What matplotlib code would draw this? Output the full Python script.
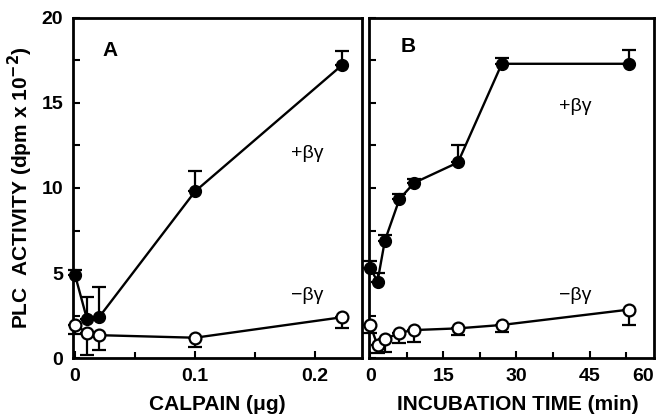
import matplotlib
matplotlib.use("Agg")
import matplotlib.pyplot as plt
from matplotlib.ticker import MultipleLocator

plt.rcParams['font.family'] = ['Liberation Sans', 'DejaVu Sans']
plt.rcParams['font.weight'] = 'bold'

# panel A: calpain dose
calpain = [0, 0.01, 0.02, 0.1, 0.222]
plus_a = [4.9, 2.3, 2.4, 9.8, 17.2]
plus_a_err = [0.3, 1.3, 1.8, 1.2, 0.85]
minus_a = [1.95, 1.5, 1.35, 1.2, 2.4]
minus_a_err = [0.55, 1.3, 0.9, 0.55, 0.65]

# panel B: incubation time
time_min = [0, 1.5, 3, 6, 9, 18, 27, 53]
plus_b = [5.3, 4.5, 6.9, 9.35, 10.3, 11.5, 17.3, 17.3]
plus_b_err = [0.4, 0.5, 0.35, 0.3, 0.25, 1.0, 0.35, 0.8]
minus_b = [1.95, 0.75, 1.1, 1.5, 1.65, 1.75, 1.95, 2.85]
minus_b_err = [0.45, 0.45, 0.75, 0.6, 0.7, 0.4, 0.4, 0.9]

fig = plt.figure(figsize=(6.57, 4.15), dpi=100)
ax_a = fig.add_axes([0.111, 0.137, 0.440, 0.820])
ax_b = fig.add_axes([0.562, 0.137, 0.434, 0.820])


def draw(ax, x, plus, plus_err, minus, minus_err):
    ax.errorbar(x, plus, yerr=[[0] * len(plus), plus_err], fmt='o-', color='black',
                mfc='black', ms=8.5, lw=1.7, capsize=5, capthick=1.6, elinewidth=1.6,
                zorder=3, clip_on=False)
    ax.errorbar(x, minus, yerr=[minus_err, [0] * len(minus)], fmt='o-', color='black',
                mfc='white', mec='black', mew=1.6, ms=8.5, lw=1.7, capsize=5,
                capthick=1.6, elinewidth=1.6, zorder=3, clip_on=False)
    ax.set_ylim(0, 20)
    ax.yaxis.set_major_locator(MultipleLocator(5))
    ax.yaxis.set_minor_locator(MultipleLocator(2.5))
    ax.tick_params(which='both', direction='in', width=1.5, labelsize=14, pad=7)
    ax.tick_params(which='major', length=5)
    ax.tick_params(which='minor', length=4)
    ax.tick_params(axis='y', which='minor', length=5)
    for s in ax.spines.values():
        s.set_linewidth(2)


draw(ax_a, calpain, plus_a, plus_a_err, minus_a, minus_a_err)
ax_a.set_xlim(-0.0017, 0.239)
ax_a.xaxis.set_minor_locator(MultipleLocator(0.05))
ax_a.set_xticks([0, 0.1, 0.2])
ax_a.set_xticklabels(['0', '0.1', '0.2'], fontweight='bold')
ax_a.set_yticks([0, 5, 10, 15, 20])
ax_a.set_yticklabels(['0', '5', '10', '15', '20'], fontweight='bold')
ax_a.set_xlabel('CALPAIN (\u03bcg)', fontsize=15, fontweight='bold', labelpad=7)
ax_a.set_ylabel('PLC  ACTIVITY (dpm x 10$^{\\mathbf{-2}}$)', fontsize=15,
                fontweight='bold', labelpad=5)
ax_a.text(0.13, 0.905, 'A', transform=ax_a.transAxes, fontsize=15, fontweight='bold',
          ha='center', va='center')
ax_a.text(0.1795, 12.0, '+\u03b2\u03b3', fontsize=14, fontweight='normal', ha='left',
          va='center')
ax_a.text(0.1795, 3.7, '\u2212\u03b2\u03b3', fontsize=14, fontweight='normal',
          ha='left', va='center')

draw(ax_b, time_min, plus_b, plus_b_err, minus_b, minus_b_err)
ax_b.set_xlim(-0.2, 58.3)
ax_b.set_xticks([0, 15, 30, 45])
ax_b.xaxis.set_minor_locator(MultipleLocator(7.5))
ax_b.set_xticklabels(['0', '15', '30', '45'], fontweight='bold')
ax_b.set_yticklabels([])
# the "60" label sits at the right edge, beyond the visible axis range
ax_b.text(1.0, -0.029, '60', transform=ax_b.transAxes, fontsize=14, fontweight='bold',
          ha='right', va='top')
ax_b.set_xlabel('INCUBATION TIME (min)', fontsize=15, fontweight='bold', labelpad=7)
ax_b.xaxis.set_label_coords(0.52, -0.107)
ax_b.text(0.137, 0.915, 'B', transform=ax_b.transAxes, fontsize=15, fontweight='bold',
          ha='center', va='center')
ax_b.text(38.8, 14.8, '+\u03b2\u03b3', fontsize=14, fontweight='normal', ha='left',
          va='center')
ax_b.text(38.8, 3.7, '\u2212\u03b2\u03b3', fontsize=14, fontweight='normal',
          ha='left', va='center')

fig.savefig('out.png', dpi=100)
